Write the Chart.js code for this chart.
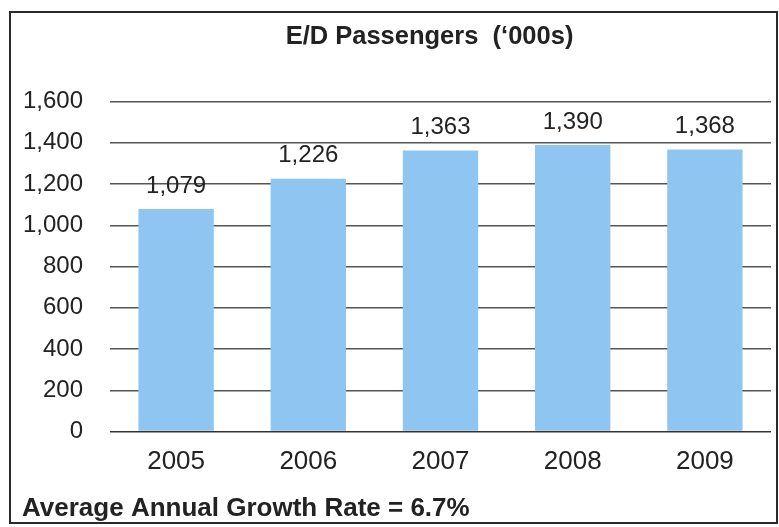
<!DOCTYPE html>
<html>
<head>
<meta charset="utf-8">
<script src="https://cdn.jsdelivr.net/npm/chart.js@4.4.1/dist/chart.umd.min.js"></script>
<style>
  html, body { margin: 0; padding: 0; background: #fff; }
  #wrap { position: relative; width: 779px; height: 527px; }
  #frame {
    position: absolute; left: 9px; top: 11px; width: 765px; height: 509px;
    border: 2px solid #2a2a2a; pointer-events: none;
  }
</style>
</head>
<body>
<div id="wrap">
  <canvas id="chart" width="779" height="527"></canvas>
  <div id="frame"></div>
</div>
<script>
// data
const years = ["2005", "2006", "2007", "2008", "2009"];
const passengers = [1079, 1226, 1363, 1390, 1368];
const yTicks = [0, 200, 400, 600, 800, 1000, 1200, 1400, 1600];

const titleText = "E/D Passengers  (\u2018000s)";
const footnote = "Average Annual Growth Rate = 6.7%";

const FONT = "'Liberation Sans', Arial, sans-serif";
const fmt = (v) => v.toLocaleString("en-US");

// value labels above the bars
const valueLabels = {
  id: "valueLabels",
  afterDatasetsDraw(chart) {
    const ctx = chart.ctx;
    const meta = chart.getDatasetMeta(0);
    ctx.save();
    ctx.font = "24px " + FONT;
    ctx.fillStyle = "#222";
    ctx.textAlign = "center";
    ctx.textBaseline = "bottom";
    meta.data.forEach((bar, i) => {
      ctx.fillText(fmt(passengers[i]), bar.x, bar.y - 11);
    });
    ctx.restore();
  },
};

// the title sits a little left of the plot centre in the original
const nudgeTitle = {
  id: "nudgeTitle",
  afterLayout(chart) {
    if (chart.titleBlock) chart.titleBlock.left -= 22;
  },
};

new Chart(document.getElementById("chart"), {
  type: "bar",
  data: {
    labels: years,
    datasets: [
      {
        data: passengers,
        backgroundColor: "#8fc5f1",
        borderWidth: 0,
        categoryPercentage: 1,
        barPercentage: 0.57,
      },
    ],
  },
  options: {
    responsive: false,
    animation: false,
    layout: { padding: { left: 22, right: 8, top: 22, bottom: 0 } },
    plugins: {
      legend: { display: false },
      tooltip: { enabled: false },
      title: {
        display: true,
        text: titleText,
        fullSize: false,
        color: "#222",
        font: { family: FONT, size: 25.5, weight: "bold" },
        padding: { top: 0, bottom: 49 },
      },
      subtitle: {
        display: true,
        text: footnote,
        position: "bottom",
        align: "start",
        color: "#222",
        font: { family: FONT, size: 26, weight: "bold" },
        padding: { top: 0, bottom: 3 },
      },
    },
    scales: {
      x: {
        grid: { display: false, drawTicks: false },
        border: { display: false },
        ticks: {
          color: "#222",
          padding: 15,
          font: { family: FONT, size: 26 },
        },
      },
      y: {
        min: 0,
        max: 1600,
        afterFit(scale) {
          scale.width = 88;
        },
        afterBuildTicks(scale) {
          scale.ticks = yTicks.map((v) => ({ value: v }));
        },
        grid: {
          color: (c) => (c.tick && c.tick.value === 0 ? "#333" : "#555"),
          lineWidth: 1.5,
          drawTicks: false,
        },
        border: { display: false },
        ticks: {
          color: "#222",
          padding: 27,
          callback: (v) => fmt(v),
          font: { family: FONT, size: 24 },
        },
      },
    },
  },
  plugins: [valueLabels, nudgeTitle],
});
</script>
</body>
</html>
